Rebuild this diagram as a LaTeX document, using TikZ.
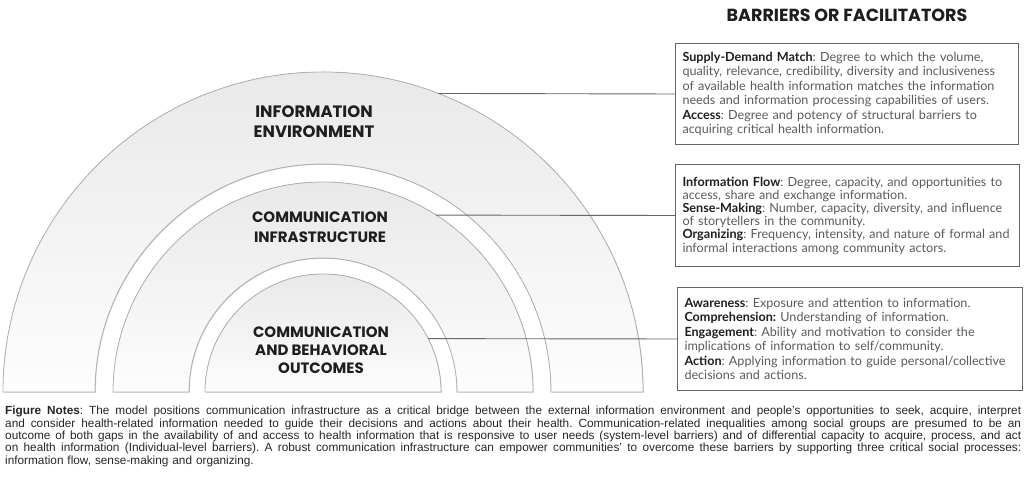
\documentclass[tikz,border=0pt]{standalone}
\usepackage{fontspec}
\setmainfont{Lato}
\newfontfamily\notefont{Liberation Sans}
\newfontfamily\headfont{Poppins}
\usetikzlibrary{shadows,calc}
\definecolor{ringedge}{HTML}{B2B2B2}
\definecolor{ringtop}{HTML}{E9E9E9}
\definecolor{ringbottom}{HTML}{FDFDFD}
\definecolor{boxedge}{HTML}{666666}
\definecolor{bodytext}{HTML}{5A5A5A}
\definecolor{termtext}{HTML}{1E1E1E}
\newcommand{\term}[1]{{\bfseries\color{termtext}#1}}
\newcommand{\noteline}[1]{\leavevmode\hbox to 1016pt{\spaceskip=.278em plus 1em minus .05em\relax #1}}
\frenchspacing
\begin{document}
\begin{tikzpicture}[x=1pt,y=1pt,
    ring/.style={draw=ringedge, line width=.8pt, top color=ringtop, bottom color=ringbottom,
      drop shadow={shadow xshift=.8pt, shadow yshift=-.8pt, opacity=.25, fill=black!50}},
    layername/.style={font=\headfont\bfseries\fontsize{15}{18}\selectfont, text=termtext, align=center},
    factorbox/.style={draw=boxedge, line width=1pt, anchor=north west, inner sep=7pt,
      align=left, text=bodytext, font=\fontsize{12.6}{14.5}\selectfont},
    link/.style={draw=boxedge, line width=.9pt}]
    \useasboundingbox (0,0) rectangle (1024,492);

    \coordinate (ctr) at (323,100);
    \filldraw[ring] (3,100) arc[start angle=180, end angle=0, radius=320pt]
        -- (551,100) arc[start angle=0, end angle=180, radius=228pt] -- cycle;
    \filldraw[ring] (113,100) arc[start angle=180, end angle=0, radius=210pt]
        -- (457,100) arc[start angle=0, end angle=180, radius=134pt] -- cycle;
    \filldraw[ring] (205,100) arc[start angle=180, end angle=0, radius=118pt] -- cycle;

    \node[layername, font=\headfont\bfseries\fontsize{16.5}{20}\selectfont] (env) at (314,370) {INFORMATION\\ENVIRONMENT};
    \node[layername, font=\headfont\bfseries\fontsize{15}{20}\selectfont] (infra) at (320,265) {COMMUNICATION\\INFRASTRUCTURE};
    \node[layername] (outcomes) at (321,142) {COMMUNICATION\\AND BEHAVIORAL\\OUTCOMES};

    \node[font=\headfont\bfseries\fontsize{17.5}{20}\selectfont, text=termtext] (title) at (847,477) {BARRIERS OR FACILITATORS};

    \node[factorbox, text width=329pt, minimum height=101pt] (envbox) at (675,449)
        {\term{Supply-Demand Match}: Degree to which the volume,\\
         quality, relevance, credibility, diversity and inclusiveness\\
         of available health information matches the information\\
         needs and information processing capabilities of users.\\
         \term{Access}: Degree and potency of structural barriers to\\
         acquiring critical health information.};
    \node[factorbox, text width=330pt, minimum height=102pt, font=\fontsize{12.6}{13.2}\selectfont] (infrabox) at (675,328)
        {\term{Information Flow}: Degree, capacity, and opportunities to\\
         access, share and exchange information.\\
         \term{Sense-Making}: Number, capacity, diversity, and influence\\
         of storytellers in the community.\\
         \term{Organizing}: Frequency, intensity, and nature of formal and\\
         informal interactions among community actors.};
    \node[factorbox, text width=331pt, minimum height=103pt] (outbox) at (677,205)
        {\term{Awareness}: Exposure and attention to information.\\
         \term{Comprehension:} Understanding of information.\\
         \term{Engagement}: Ability and motivation to consider the\\
         implications of information to self/community.\\
         \term{Action}: Applying information to guide personal/collective\\
         decisions and actions.};

    \coordinate (envpt) at ($(ctr)+(68.9:320pt)$);
    \coordinate (infrapt) at ($(ctr)+(57.4:210pt)$);
    \coordinate (outpt) at ($(ctr)+(26.9:118pt)$);
    \draw[link] (envpt) -- (envbox.west);
    \draw[link] (infrapt) -- (infrabox.west);
    \draw[link] (outpt) -- (outbox.west);

    \node[anchor=north west, inner sep=0pt, text width=1016pt, align=left, text=black!85,
        font=\notefont\fontsize{11.8}{12.4}\selectfont] (notes) at (5,86)
        {\noteline{\textbf{Figure Notes}: The model positions communication infrastructure as a critical bridge between the external information environment and people’s opportunities to seek, acquire, interpret}\\
         \noteline{and consider health-related information needed to guide their decisions and actions about their health. Communication-related inequalities among social groups are presumed to be an}\\
         \noteline{outcome of both gaps in the availability of and access to health information that is responsive to user needs (system-level barriers) and of differential capacity to acquire, process, and act}\\
         \noteline{on health information (Individual-level barriers). A robust communication infrastructure can empower communities’ to overcome these barriers by supporting three critical social processes:}\\
         information flow, sense-making and organizing.};
\end{tikzpicture}
\end{document}
